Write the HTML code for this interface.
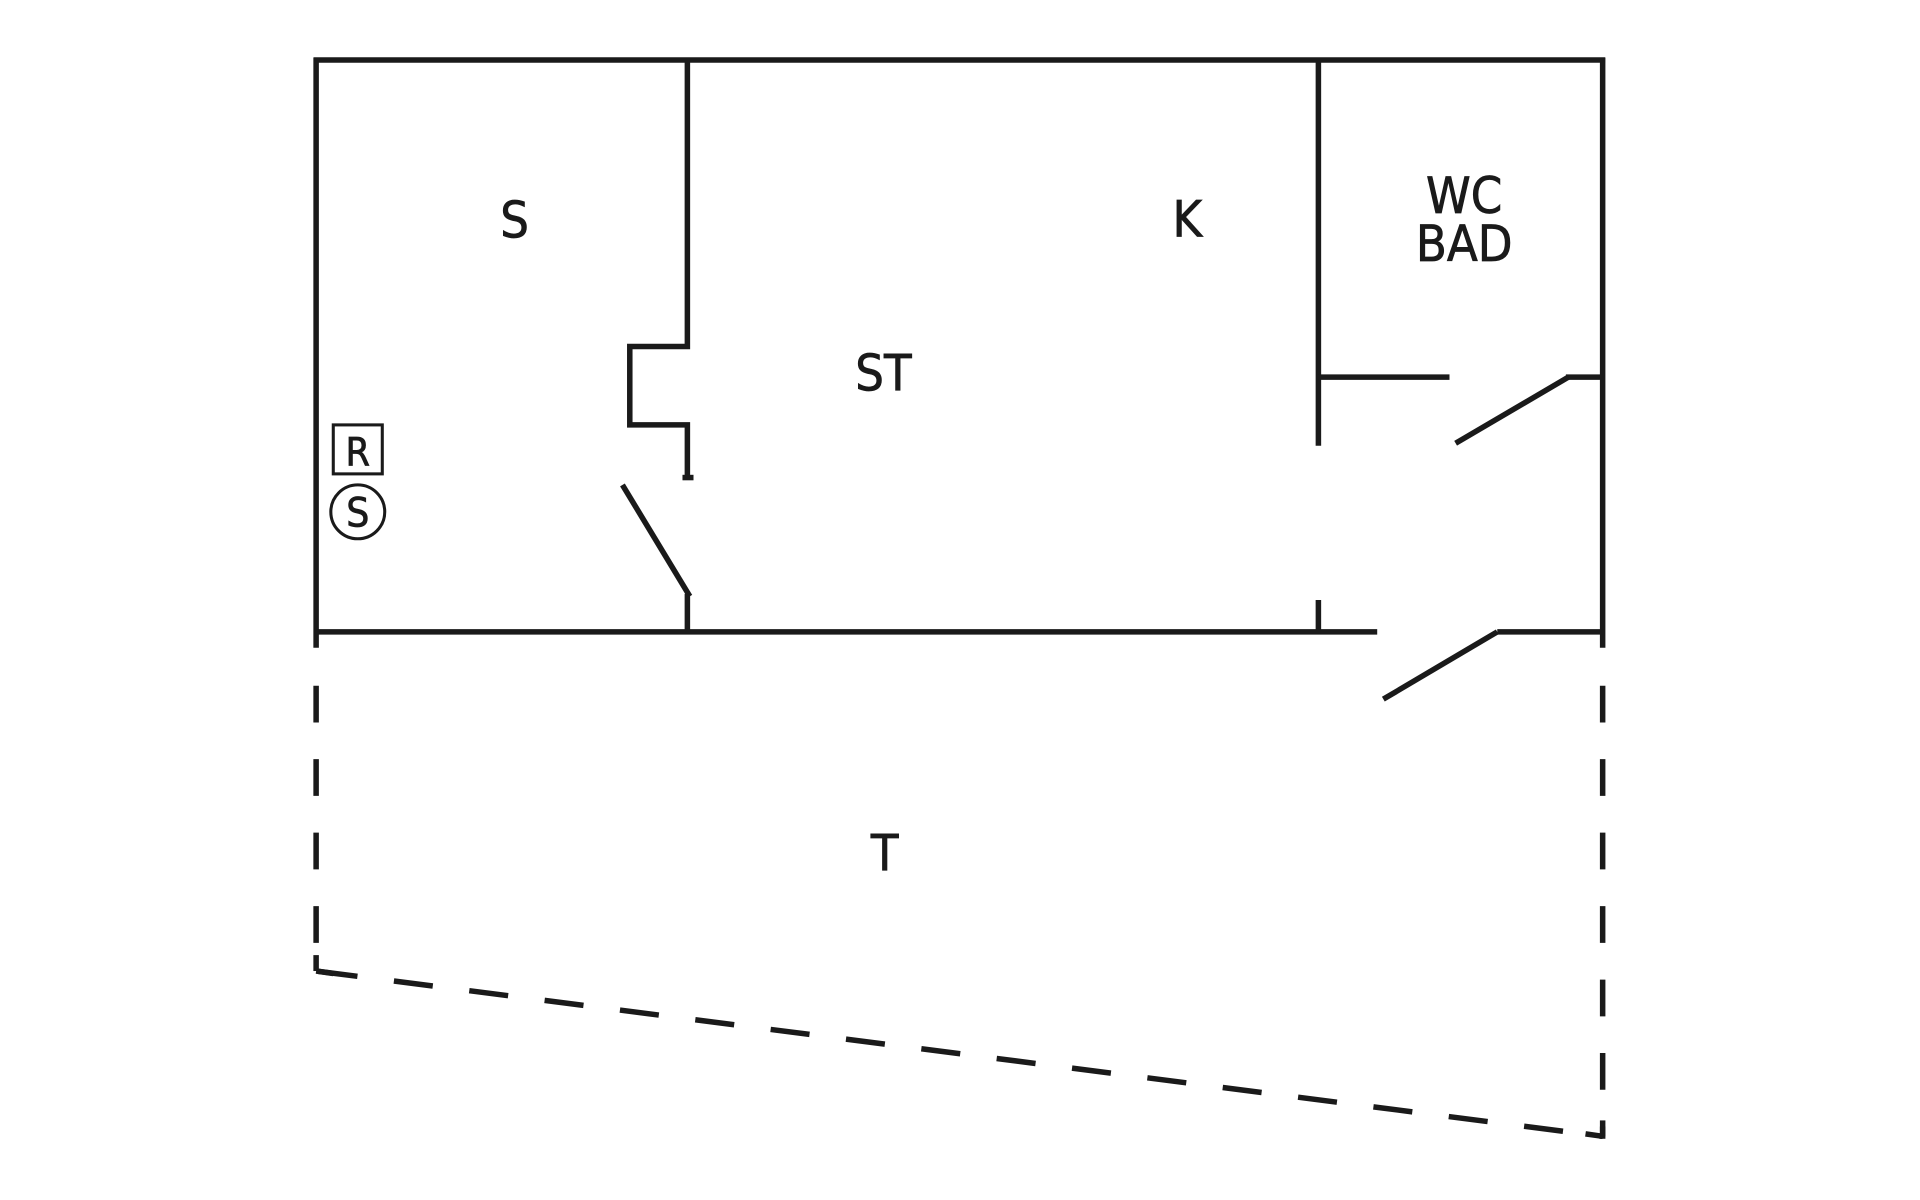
<!DOCTYPE html>
<html><head><meta charset="utf-8"><style>
html,body{margin:0;padding:0;background:#fff;width:1920px;height:1200px;overflow:hidden}
svg{display:block}
text{font-family:"DejaVu Sans Condensed","Liberation Sans",sans-serif;fill:#1a1a1a;text-anchor:middle;stroke:#1a1a1a;stroke-width:0.6}
</style></head><body>
<svg width="1920" height="1200" viewBox="0 0 1567 980" preserveAspectRatio="none">
<g stroke="#1a1a1a" stroke-width="4.5" fill="none" stroke-linecap="butt">
<polyline points="256,49 1310,49"/>
<line x1="258" y1="47" x2="258" y2="529"/>
<line x1="1308" y1="47" x2="1308" y2="529"/>
<line x1="258" y1="516" x2="1124" y2="516"/>
<line x1="1222" y1="516" x2="1308" y2="516"/>
<polyline points="561,49 561,283 514,283 514,347 561,347 561,390"/>
<line x1="557" y1="390" x2="566" y2="390"/>
<line x1="508" y1="396" x2="563" y2="487"/>
<line x1="561" y1="485" x2="561" y2="516"/>
<line x1="1076" y1="49" x2="1076" y2="364"/>
<line x1="1076" y1="308" x2="1183" y2="308"/>
<line x1="1278" y1="308" x2="1308" y2="308"/>
<line x1="1188" y1="362" x2="1280" y2="308"/>
<line x1="1076" y1="490" x2="1076" y2="516"/>
<line x1="1129" y1="571" x2="1222" y2="516"/>
<g stroke-dasharray="30 30">
<line x1="258" y1="560" x2="258" y2="793"/>
<line x1="1308" y1="560" x2="1308" y2="928"/>
<line x1="258" y1="793" x2="1308" y2="928" stroke-dasharray="32 30" stroke-dashoffset="-2"/>
</g>
<line x1="258" y1="780" x2="258" y2="793"/>
<line x1="258" y1="793" x2="272" y2="795"/>
<line x1="1294" y1="926" x2="1308" y2="928"/>
<line x1="1308" y1="915" x2="1308" y2="930"/>
<rect x="272" y="347" width="40" height="40" stroke-width="2.5"/>
<circle cx="292" cy="418" r="22" stroke-width="2.5"/>
</g>
<text x="420" y="194" font-size="41">S</text>
<text x="969" y="193" font-size="41">K</text>
<text x="1195" y="174" font-size="41">WC</text>
<text x="1195" y="213" font-size="41">BAD</text>
<text x="721" y="319" font-size="41">ST</text>
<text x="722" y="711" font-size="41">T</text>
<text x="292" y="380" font-size="32">R</text>
<text x="292" y="430" font-size="33">S</text>
</svg>
</body></html>
